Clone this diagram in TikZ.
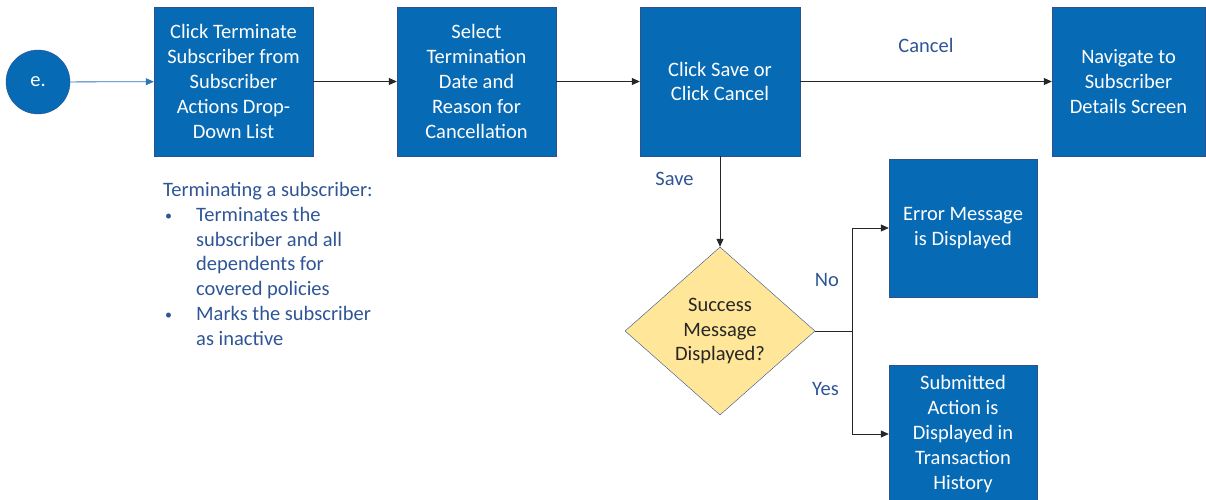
\documentclass[tikz,border=0pt]{standalone}
\usepackage{fontspec}
\setmainfont{Carlito}
\usetikzlibrary{shapes.geometric,arrows.meta}

\definecolor{boxblue}{RGB}{6,106,181}
\definecolor{edgeblue}{RGB}{47,82,143}
\definecolor{labelblue}{RGB}{47,85,151}
\definecolor{linkblue}{RGB}{46,117,182}
\definecolor{paleyellow}{RGB}{255,230,153}

\newcommand{\dotmark}{\hspace*{2pt}\raisebox{1pt}{\fontsize{14}{14}\selectfont\textbullet}}

\begin{document}
\begin{tikzpicture}[
        x=1pt, y=-1pt,
        font=\fontsize{20.5}{24.8}\selectfont,
        action/.style={draw=edgeblue, fill=boxblue, text=white, rectangle, align=center,
            inner sep=0pt, minimum width=159pt, minimum height=149pt,
            execute at begin node={\vspace*{4pt}}},
        decision/.style={draw=edgeblue, fill=paleyellow, text=black!85, diamond, align=center,
            aspect=1.13, inner sep=0pt, minimum width=190pt, minimum height=168pt,
            execute at begin node={\vspace*{4pt}}},
        flow/.style={-{Triangle[length=8pt,width=7pt]}, line width=0.8pt, draw=black!85},
        tag/.style={text=labelblue, inner sep=0pt}]

    \useasboundingbox (0,0) rectangle (1206,500);

    % main row
    \node[circle, draw=edgeblue, fill=boxblue, text=white, minimum size=64pt, inner sep=0pt] (start) at (38,82) {e.};
    \node[action] (terminate) at (233.5,81.5) {Click Terminate\\Subscriber from\\Subscriber\\Actions Drop-\\Down List};
    \node[action] (reason) at (476.5,81.5) {Select\\Termination\\Date and\\Reason for\\Cancellation};
    \node[action, minimum width=160pt] (choice) at (720,81.5) {Click Save or\\Click Cancel};
    \node[action, minimum width=153pt] (details) at (1128.5,81.5) {Navigate to\\Subscriber\\Details Screen};

    % save branch
    \node[decision] (success) at (720,331) {Success\\Message\\Displayed?};
    \node[action, minimum width=148pt, minimum height=138pt] (error) at (963,228) {Error Message\\is Displayed};
    \node[action, minimum width=148pt, minimum height=138pt] (history) at (963,434) {Submitted\\Action is\\Displayed in\\Transaction\\History};

    % note under the first step
    \node[tag, anchor=north west] (notes) at (163,179) {%
        \begin{tabular}{@{}p{33pt}@{}l@{}}
            \multicolumn{2}{@{}l@{}}{Terminating a subscriber:}\\
            \dotmark & Terminates the\\
                     & subscriber and all\\
                     & dependents for\\
                     & covered policies\\
            \dotmark & Marks the subscriber\\
                     & as inactive
        \end{tabular}};

    \draw[flow, draw=linkblue] (start) -- (terminate);
    \draw[flow] (terminate) -- (reason);
    \draw[flow] (reason) -- (choice);
    \draw[flow] (choice) -- node[tag, above=28pt] {Cancel} (details);
    \draw[flow] (choice) -- node[tag, pos=0.25, left=26pt] {Save} (success);
    \draw[flow] (success.east) -- ++(37,0) |- node[tag, pos=0.25, left=13pt] {No} (error.west);
    \draw[flow] (success.east) -- ++(37,0) |- node[tag, pos=0.28, left=13pt] {Yes} (history.west);
\end{tikzpicture}
\end{document}
